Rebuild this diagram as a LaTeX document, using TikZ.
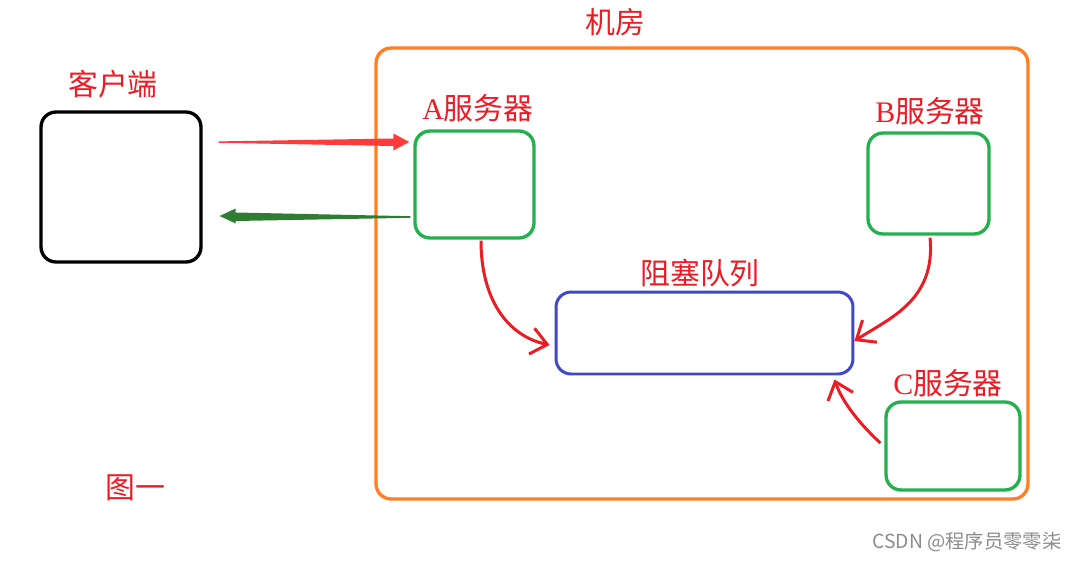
\documentclass[tikz,border=0pt]{standalone}
\usepackage{fontspec}
\newfontfamily\cjk{Noto Sans CJK SC}
\newfontfamily\lserif{Liberation Serif}
\usetikzlibrary{arrows.meta,calc}
\definecolor{roomorange}{RGB}{255,127,39}
\definecolor{srvgreen}{RGB}{34,177,76}
\definecolor{qblue}{RGB}{63,72,204}
\definecolor{lblred}{RGB}{237,28,36}
\definecolor{arrred}{RGB}{255,60,60}
\definecolor{arrgreen}{RGB}{46,125,50}
\tikzset{
  box/.style={draw, rounded corners=0.3cm, line width=1.9pt, inner sep=0pt},
  lbl/.style={text=lblred, font=\cjk\fontsize{17pt}{20pt}\selectfont, inner sep=0pt},
  curv/.style={draw=lblred, line width=1.7pt, -{Straight Barb[length=9pt,width=15pt,line width=1.7pt]}},
}
\begin{document}
\begin{tikzpicture}[x=0.02cm,y=-0.02cm]
\useasboundingbox (0,0) rectangle (1077,561);
\fill[white] (0,0) rectangle (1077,561);
% room
\node[box, draw=roomorange, minimum width=13.04cm, minimum height=9.02cm] (room) at (702,273.5) {};
\node[lbl] (roomlbl) at (615,22) {机房};
% client
\node[box, draw=black, minimum width=3.2cm, minimum height=3.0cm] (client) at (121,187) {};
\node[lbl] (clientlbl) at (113,84) {客户端};
% servers
\node[box, draw=srvgreen, minimum width=2.38cm, minimum height=2.14cm] (A) at (474.5,184.5) {};
\node[lbl] (Albl) at (478,108) {{\lserif A}服务器};
\node[box, draw=srvgreen, minimum width=2.42cm, minimum height=2.02cm] (B) at (928.5,183.5) {};
\node[lbl] (Blbl) at (930,111) {{\lserif B}服务器};
\node[box, draw=srvgreen, minimum width=2.68cm, minimum height=1.76cm] (C) at (953,446) {};
\node[lbl] (Clbl) at (948,383) {{\lserif C}服务器};
% queue
\node[box, draw=qblue, line width=1.7pt, minimum width=5.94cm, minimum height=1.64cm] (Q) at (704.5,333) {};
\node[lbl] (Qlbl) at (700,273) {阻塞队列};
% figure label and watermark
\node[lbl] (fig) at (135,488) {图一};
\node[text=black!45, font=\cjk\fontsize{11pt}{13pt}\selectfont, inner sep=0pt] (wm) at (967,542) {CSDN @程序员零零柒};
% tapered arrows client <-> A
\coordinate (reqtail) at ($(client.east)+(16,-45)$);
\coordinate (reqtip) at ($(A.west)+(-4,-42.5)$);
\fill[arrred] (reqtail) -- ++(0,-0.6) -- ($(reqtip)+(-16,-3.5)$) -- ($(reqtip)+(-16,-8.5)$) -- (reqtip)
  -- ($(reqtip)+(-16,8.5)$) -- ($(reqtip)+(-16,4)$) -- ($(reqtail)+(0,0.8)$) -- cycle;
\coordinate (resptail) at ($(A.west)+(-3,32.5)$);
\coordinate (resptip) at ($(client.east)+(17,29)$);
\fill[arrgreen] (resptail) -- ++(0,-0.8) -- ($(resptip)+(16,-3.5)$) -- ($(resptip)+(16,-7.5)$) -- (resptip)
  -- ($(resptip)+(16,7.5)$) -- ($(resptip)+(16,5)$) -- ($(resptail)+(0,0.8)$) -- cycle;
% curved arrows into the queue
\draw[curv] ($(A.south)+(6.5,1)$) .. controls (481,300) and (508,336) .. ($(Q.west)+(-5,12)$);
\draw[curv] ($(B.south)+(1.5,2)$) .. controls (936,300) and (890,318) .. ($(Q.east)+(0,8)$);
\draw[curv] ($(C.west)+(-4,-3)$) .. controls (862,426) and (843,404) .. ($(Q.south)+(130,4)$);
\end{tikzpicture}
\end{document}
